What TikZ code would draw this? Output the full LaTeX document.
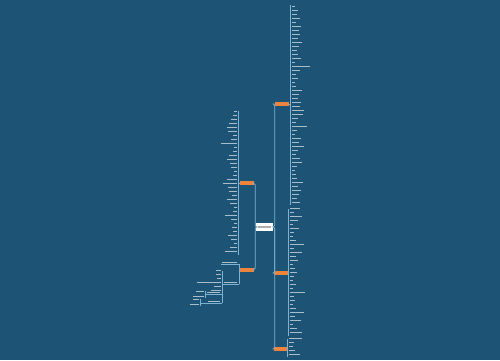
\documentclass[tikz,border=0pt]{standalone}
\usetikzlibrary{positioning}
\definecolor{mapbg}{RGB}{29,84,118}
\definecolor{mapline}{RGB}{125,178,212}
\definecolor{maporange}{RGB}{236,132,62}
\tikzset{
  root/.style={fill=white, minimum width=0.34cm, minimum height=0.16cm, inner sep=0pt},
  topic/.style={fill=maporange, minimum width=0.28cm, minimum height=0.07cm, inner sep=0pt},
  link/.style={draw=mapline, line width=0.45pt, rounded corners=1pt},
  leaf/.style={fill=white!62!mapbg},
}
\begin{document}
\begin{tikzpicture}[x=0.02cm, y=-0.02cm]
\fill[mapbg] (0,0) rectangle (500,360);
% root and main topics
\node[root] (c) at (264.5,227) {};
\fill[gray!65] (258,226.3) rectangle (271,227.6);
\node[topic] (r1) at (282,104) {};
\node[topic] (r2) at (281,273) {};
\node[topic] (r3) at (281,349) {};
\node[topic] (l1) at (247,183) {};
\node[topic] (l2) at (247,270) {};
% connectors from root
\draw[link] (c.east) -- ++(1.5,0) |- (r1.west);
\draw[link] (c.east) -- ++(1.5,0) |- (r2.west);
\draw[link] (c.east) -- ++(1.5,0) |- (r3.west);
\draw[link] (c.west) -- ++(-0.5,0) |- (l1.east);
\draw[link] (c.west) -- ++(-0.5,0) |- (l2.east);
% right branch 1
\coordinate (r1top) at (290,5);
\coordinate (r1bot) at (290,205);
\draw[link] (r1top) -- (r1bot);
\draw[link] (r1.east) -- (r1.east -| r1top);
\foreach \w [count=\i] in {3,6,5,8,4,9,7,8,6,10,7,5,6,9,3,18,8,4,6,3,4,10,7,6,9,8,12,11,6,4,15,5,3,9,7,12,6,4,8,10,5,3,4,5,11,6,9,7,5,8}
  \fill[leaf] (291.5,{2+4*\i}) rectangle ++(\w,1.2);
% right branch 2
\coordinate (r2top) at (288,209);
\coordinate (r2bot) at (288,336);
\draw[link] (r2top) -- (r2bot);
\draw[link] (r2.east) -- (r2.east -| r2top);
\foreach \w [count=\i] in {10,4,12,8,3,9,4,3,6,14,4,12,6,8,3,5,7,4,3,6,3,15,4,5,3,6,14,5,11,3,7,12}
  \fill[leaf] (289.5,{204+4*\i}) rectangle ++(\w,1.2);
% right branch 3
\coordinate (r3top) at (287,339);
\coordinate (r3bot) at (287,357);
\draw[link] (r3top) -- (r3bot);
\draw[link] (r3.east) -- (r3.east -| r3top);
\foreach \w [count=\i] in {13,5,4,6,11}
  \fill[leaf] (288.5,{334+4*\i}) rectangle ++(\w,1.2);
% left branch 1
\coordinate (l1top) at (238,111);
\coordinate (l1bot) at (238,255);
\draw[link] (l1top) -- (l1bot);
\draw[link] (l1.west) -- (l1.west -| l1top);
\foreach \w [count=\i] in {3,4,6,8,10,9,4,6,16,3,4,8,10,7,6,3,4,10,14,9,8,5,10,7,3,4,12,6,3,5,4,9,6,3,7,12}
  \fill[leaf] (236.5,{107+4*\i}) rectangle ++(-\w,1.2);
% left branch 2
\coordinate (l2top) at (239,264);
\coordinate (l2bot) at (239,284);
\draw[link] (l2top) -- (l2bot);
\draw[link] (l2.west) -- (l2.west -| l2top);
\draw[link] (l2top) -- (221,264);
\fill[leaf] (222,262) rectangle (237,263.2);
\draw[link] (l2bot) -- (222,284);
\fill[leaf] (224,282) rectangle (237,283.2);
\coordinate (s1top) at (222,271);
\coordinate (s1bot) at (222,303);
\draw[link] (s1top) -- (s1bot);
\foreach \y/\w in {270/5,274/5,278/4,282/24,286/7,290/10}
  \fill[leaf] (220.5,\y) rectangle ++(-\w,1.2);
% sub topics of left branch 2
\draw[link] (222,294) -- (205,294);
\fill[leaf] (207,292) rectangle (220,293.2);
\draw[link] (205,291) -- (205,298);
\foreach \y/\w in {291/8,296/11}
  \fill[leaf] (203.5,\y) rectangle ++(-\w,1.2);
\draw[link] (s1bot) -- (200,303);
\fill[leaf] (208,301) rectangle (220,302.2);
\draw[link] (200,299) -- (200,306);
\foreach \y/\w in {299/6,304/9}
  \fill[leaf] (198.5,\y) rectangle ++(-\w,1.2);
\end{tikzpicture}
\end{document}
